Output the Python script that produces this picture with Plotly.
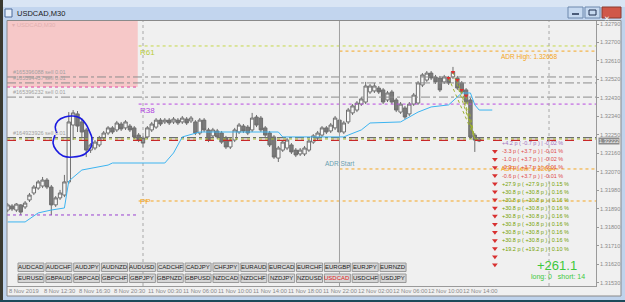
import plotly.graph_objects as go

W, H = 625, 302

# ---------------- data ----------------
symbol_title = "USDCAD,M30"
bar_index = list(range(109))
opens = [1.31884,1.31904,1.31884,1.31909,1.31899,1.31933,1.31967,1.31991,1.32001,1.32030,
         1.31996,1.31909,1.31943,1.31957,1.32021,1.32298,1.32352,1.32313,1.32274,1.32176,
         1.32186,1.32201,1.32235,1.32259,1.32284,1.32274,1.32303,1.32284,1.32293,1.32284,
         1.32249,1.32235,1.32240,1.32274,1.32288,1.32322,1.32313,1.32322,1.32313,1.32322,
         1.32313,1.32327,1.32318,1.32313,1.32259,1.32322,1.32274,1.32245,1.32269,1.32259,
         1.32235,1.32191,1.32225,1.32264,1.32293,1.32288,1.32274,1.32337,1.32332,1.32284,
         1.32259,1.32240,1.32137,1.32176,1.32186,1.32201,1.32176,1.32157,1.32157,1.32176,
         1.32215,1.32235,1.32249,1.32284,1.32269,1.32284,1.32322,1.32264,1.32313,1.32357,
         1.32371,1.32400,1.32410,1.32459,1.32464,1.32478,1.32469,1.32420,1.32459,1.32420,
         1.32361,1.32381,1.32352,1.32400,1.32405,1.32493,1.32517,1.32551,1.32532,1.32527,
         1.32508,1.32527,1.32532,1.32527,1.32503,1.32469,1.32420,1.32249,1.32220]
highs = [1.31918,1.31913,1.31918,1.31913,1.31928,1.31967,1.32006,1.32030,1.32045,1.32040,
         1.32006,1.31952,1.31982,1.32055,1.32361,1.32371,1.32366,1.32332,1.32284,1.32210,
         1.32225,1.32245,1.32269,1.32293,1.32293,1.32318,1.32313,1.32322,1.32303,1.32293,
         1.32259,1.32245,1.32293,1.32313,1.32332,1.32332,1.32332,1.32332,1.32337,1.32332,
         1.32342,1.32337,1.32342,1.32322,1.32332,1.32332,1.32284,1.32284,1.32279,1.32269,
         1.32245,1.32235,1.32284,1.32308,1.32303,1.32298,1.32357,1.32347,1.32342,1.32293,
         1.32269,1.32249,1.32196,1.32225,1.32235,1.32210,1.32186,1.32186,1.32196,1.32230,
         1.32254,1.32269,1.32293,1.32293,1.32308,1.32342,1.32332,1.32318,1.32381,1.32400,
         1.32415,1.32434,1.32508,1.32498,1.32503,1.32488,1.32478,1.32464,1.32469,1.32430,
         1.32410,1.32391,1.32410,1.32454,1.32512,1.32551,1.32561,1.32561,1.32542,1.32537,
         1.32542,1.32537,1.32581,1.32537,1.32512,1.32478,1.32430,1.32259,1.32235]
lows = [1.31874,1.31879,1.31874,1.31860,1.31889,1.31923,1.31957,1.31982,1.31991,1.31986,
        1.31860,1.31899,1.31933,1.31947,1.32011,1.32225,1.32264,1.32235,1.32142,1.32162,
        1.32176,1.32191,1.32225,1.32249,1.32254,1.32264,1.32269,1.32274,1.32264,1.32230,
        1.32215,1.32191,1.32230,1.32264,1.32279,1.32293,1.32303,1.32298,1.32303,1.32298,
        1.32303,1.32298,1.32308,1.32249,1.32249,1.32264,1.32215,1.32235,1.32230,1.32206,
        1.32181,1.32181,1.32215,1.32254,1.32259,1.32249,1.32264,1.32288,1.32264,1.32240,
        1.32191,1.32133,1.32118,1.32167,1.32176,1.32157,1.32142,1.32147,1.32147,1.32167,
        1.32206,1.32225,1.32240,1.32254,1.32259,1.32274,1.32254,1.32254,1.32303,1.32347,
        1.32361,1.32391,1.32400,1.32449,1.32454,1.32449,1.32400,1.32410,1.32400,1.32361,
        1.32352,1.32327,1.32342,1.32391,1.32396,1.32483,1.32508,1.32517,1.32498,1.32459,
        1.32498,1.32493,1.32522,1.32469,1.32449,1.32400,1.32230,1.32167,1.32215]
closes = [1.31909,1.31889,1.31913,1.31874,1.31918,1.31957,1.31996,1.32021,1.32030,1.31996,
          1.31909,1.31943,1.31967,1.32021,1.32313,1.32357,1.32293,1.32264,1.32176,1.32201,
          1.32215,1.32235,1.32259,1.32284,1.32264,1.32308,1.32279,1.32313,1.32274,1.32240,
          1.32225,1.32210,1.32284,1.32303,1.32322,1.32303,1.32322,1.32308,1.32327,1.32308,
          1.32332,1.32308,1.32332,1.32259,1.32322,1.32274,1.32225,1.32274,1.32240,1.32215,
          1.32191,1.32225,1.32274,1.32298,1.32269,1.32259,1.32332,1.32298,1.32274,1.32249,
          1.32201,1.32142,1.32186,1.32215,1.32225,1.32167,1.32152,1.32176,1.32186,1.32220,
          1.32245,1.32259,1.32284,1.32264,1.32298,1.32332,1.32264,1.32308,1.32371,1.32391,
          1.32405,1.32425,1.32488,1.32488,1.32488,1.32459,1.32410,1.32454,1.32410,1.32371,
          1.32400,1.32337,1.32400,1.32444,1.32503,1.32542,1.32551,1.32527,1.32508,1.32469,
          1.32532,1.32503,1.32556,1.32478,1.32459,1.32410,1.32240,1.32225,1.32230]

time_tick_bars = [0, 8, 16, 24, 32, 40, 48, 56, 64, 72, 80, 88, 96, 104]
time_tick_labels = ["8 Nov 2019", "8 Nov 12:30", "8 Nov 16:30", "8 Nov 20:30",
                    "11 Nov 00:30", "11 Nov 06:00", "11 Nov 10:00", "11 Nov 14:00",
                    "11 Nov 18:00", "11 Nov 22:00", "12 Nov 02:00", "12 Nov 06:00",
                    "12 Nov 10:00", "12 Nov 14:00"]
price_ticks = [1.32790, 1.32700, 1.32610, 1.32520, 1.32430, 1.32340, 1.32250, 1.32160,
               1.32070, 1.31980, 1.31890, 1.31800, 1.31710, 1.31620, 1.31530]
bid_price = 1.32222

trail_bars = [0, 4, 7, 10, 13, 14, 17, 23, 24, 36, 38, 40, 44, 62, 63, 77, 78, 81, 83, 90,
              94, 97, 101, 104, 106, 107, 108, 111]
trail_prices = [1.31826, 1.31826, 1.31870, 1.31884, 1.31894, 1.32025, 1.32079, 1.32103,
                1.32113, 1.32113, 1.32162, 1.32240, 1.32264, 1.32264, 1.32240, 1.32240,
                1.32249, 1.32274, 1.32308, 1.32313, 1.32361, 1.32386, 1.32396, 1.32454,
                1.32454, 1.32396, 1.32371, 1.32371]

circle_bars = [10.85, 10.4, 11.1, 12.7, 15.0, 17.7, 19.1, 19.3, 18.6, 17.9, 16.6, 15.0,
               13.1, 11.5, 10.9, 11.3]
circle_prices = [1.32249, 1.32210, 1.32176, 1.32147, 1.32142, 1.32157, 1.32191, 1.32235,
                 1.32274, 1.32303, 1.32332, 1.32342, 1.32337, 1.32318, 1.32288, 1.32259]

# horizontal levels: name, price, start bar, end bar, color, dash
lvl_names = ["R61", "ADR High", "ord1", "ord2", "prevbox", "ord3", "R38", "ordline",
             "entry", "sells", "ADR Low", "PP", "prevS"]
lvl_prices = [1.32683, 1.32658, 1.32532, 1.32503, 1.32483, 1.32434, 1.32400, 1.32237,
              1.32230, 1.32223, 1.32084, 1.31928, 1.31860]
lvl_start = [30, 76, -1, -1, -1, -1, 30, -1, -1, -1, 76, 30, -1]
lvl_end = [135, 135, 135, 135, 29.8, 135, 135, 135, 135, 135, 135, 135, 29.8]
lvl_color = ["#c5d84a", "#f5a623", "#8c8c8c", "#8c8c8c", "#e040a0", "#8c8c8c", "#b84ae0",
             "#6e6e6e", "#a8c030", "#c82828", "#f5a623", "#f5a623", "#9a40d0"]
lvl_dash = ["dot", "dot", "dashdot", "dashdot", "dot", "dashdot", "dot", "dashdot",
            "dot", "dash", "dot", "dot", "dot"]

order_tags = ["#165396088 sell 0.01", "#165394437 sell 0.01", "#165396232 sell 0.01",
              "#164923926 sell 0.01"]
order_prices = [1.32532, 1.32503, 1.32434, 1.32237]

day_sep_bars = [31, 124]
adr_start_bar = 76

entry_bars = [101, 102, 103, 104, 105]
entry_prices = [1.32527, 1.32556, 1.32517, 1.32469, 1.32440]
exit_bars = [107, 107, 107, 107, 107]
exit_prices = [1.32232, 1.32232, 1.32232, 1.32232, 1.32232]

trade_pips = [4.2, -3.3, -1.0, -0.9, -0.6, 27.9, 30.8, 30.8, 30.8, 30.8, 30.8, 30.8, 30.8, 19.2]
trade_max = [-0.7, 3.7, 3.7, 3.7, 3.7, 27.9, 30.8, 30.8, 30.8, 30.8, 30.8, 30.8, 30.8, 19.2]
trade_pct = [-0.02, -0.01, -0.02, -0.01, -0.01, 0.15, 0.16, 0.16, 0.16, 0.16, 0.16, 0.16, 0.16, 0.10]
total_pips = 261.1
long_count, short_count = 0, 14

buttons_row1 = ["AUDCAD", "AUDCHF", "AUDJPY", "AUDNZD", "AUDUSD", "CADCHF", "CADJPY",
                "CHFJPY", "EURAUD", "EURCAD", "EURCHF", "EURGBP", "EURJPY", "EURNZD"]
buttons_row2 = ["EURUSD", "GBPAUD", "GBPCAD", "GBPCHF", "GBPJPY", "GBPNZD", "GBPUSD",
                "NZDCAD", "NZDCHF", "NZDJPY", "NZDUSD", "USDCAD", "USDCHF", "USDJPY"]
active_symbol = "USDCAD"

# ---------------- layout geometry (pixels) ----------------
PX_L, PX_R, PX_T, PX_B = 7, 596, 21, 286
X0, XSTEP = 7.65, 4.366
XR = [(PX_L - X0) / XSTEP, (PX_R - X0) / XSTEP]
PPX = 0.0000487
YR = [1.32790 - (PX_B - 24) * PPX, 1.32790 + (24 - PX_T) * PPX]


def px(x):
    return x / W


def py(y):
    return 1 - y / H


FONT = "Liberation Sans"
BG = "#f0f0f0"
fig = go.Figure()

shapes = []
ann = []

# pink previous-day zone
shapes.append(dict(type="rect", xref="x", yref="y", x0=XR[0], x1=29.8,
                   y0=lvl_prices[4], y1=YR[1], fillcolor="#f6c8c8", line=dict(width=0),
                   layer="below"))

# horizontal levels
for name, p, s, e, c, d in zip(lvl_names, lvl_prices, lvl_start, lvl_end, lvl_color, lvl_dash):
    fig.add_trace(go.Scatter(x=[max(s, XR[0]), min(e, XR[1])], y=[p, p], mode="lines",
                             line=dict(color=c, width=1.2 if name in ("ordline", "sells") else 1, dash=d),
                             hoverinfo="skip", showlegend=False))

# period separators
for b in day_sep_bars:
    fig.add_trace(go.Scatter(x=[b, b], y=[YR[0], YR[1]], mode="lines",
                             line=dict(color="#a8a8a8", width=1, dash="dot"),
                             hoverinfo="skip", showlegend=False))
fig.add_trace(go.Scatter(x=[adr_start_bar, adr_start_bar], y=[YR[0], YR[1]], mode="lines",
                         line=dict(color="#a0a0a0", width=1), hoverinfo="skip", showlegend=False))

# candles
fig.add_trace(go.Candlestick(x=bar_index, open=opens, high=highs, low=lows, close=closes,
                             increasing=dict(line=dict(color="#6e6e6e", width=1), fillcolor="#f8f8f8"),
                             decreasing=dict(line=dict(color="#6e6e6e", width=1), fillcolor="#7a7a7a"),
                             whiskerwidth=0, hoverinfo="skip", showlegend=False))

# trailing line
fig.add_trace(go.Scatter(x=trail_bars, y=trail_prices, mode="lines",
                         line=dict(color="#3cb4f0", width=1), hoverinfo="skip", showlegend=False))

# trade history lines
for eb, ep, xb, xp in zip(entry_bars, entry_prices, exit_bars, exit_prices):
    fig.add_trace(go.Scatter(x=[eb, xb], y=[ep, xp], mode="lines",
                             line=dict(color="#9cb030", width=1, dash="dot"),
                             hoverinfo="skip", showlegend=False))
fig.add_trace(go.Scatter(x=entry_bars, y=entry_prices, mode="markers",
                         marker=dict(symbol="triangle-down", size=4, color="#e03030"),
                         hoverinfo="skip", showlegend=False))

# hand drawn circle
fig.add_trace(go.Scatter(x=circle_bars, y=circle_prices, mode="lines",
                         line=dict(color="#1a1ae0", width=1.6, shape="spline"),
                         hoverinfo="skip", showlegend=False))

# level labels
ann.append(dict(x=29.9, y=lvl_prices[0], xref="x", yref="y", text="R61", showarrow=False,
                xanchor="left", yanchor="top", font=dict(size=8, color="#b8cc3a", family=FONT)))
ann.append(dict(x=29.9, y=lvl_prices[6], xref="x", yref="y", text="R38", showarrow=False,
                xanchor="left", yanchor="top", font=dict(size=8, color="#b040e0", family=FONT)))
ann.append(dict(x=29.9, y=lvl_prices[11], xref="x", yref="y", text="PP", showarrow=False,
                xanchor="left", yanchor="middle", font=dict(size=8, color="#f5a623", family=FONT)))
ann.append(dict(x=112.5, y=lvl_prices[1], xref="x", yref="y", text="ADR High: %.5f" % lvl_prices[1],
                showarrow=False, xanchor="left", yanchor="top",
                font=dict(size=6.5, color="#f5a623", family=FONT)))
ann.append(dict(x=112.5, y=lvl_prices[10], xref="x", yref="y", text="ADR Low: %.5f" % lvl_prices[10],
                showarrow=False, xanchor="left", yanchor="middle",
                font=dict(size=6.5, color="#f5a623", family=FONT)))
ann.append(dict(x=adr_start_bar, y=lvl_prices[10], xref="x", yref="y", text="ADR Start",
                showarrow=False, xanchor="center", yanchor="bottom",
                font=dict(size=6.5, color="#6a9fb0", family=FONT)))
for t, p in zip(order_tags, order_prices):
    ann.append(dict(x=0.7, y=p, xref="x", yref="y", text=t, showarrow=False, xanchor="left",
                    yanchor="bottom", font=dict(size=5.5, color="#a0a0a0", family=FONT)))
ann.append(dict(x=px(10), y=py(25), xref="paper", yref="paper", text="▾ " + symbol_title,
                showarrow=False, xanchor="left", yanchor="middle",
                font=dict(size=6, color="#e0b0b0", family=FONT)))

# trade list
row_top, row_step = 1.32210, 0.000395
for k, (pp, mx, pc) in enumerate(zip(trade_pips, trade_max, trade_pct)):
    yk = row_top - k * row_step
    col = "#e04848" if pp < 0 else "#74a000"
    if k == 0:
        col = "#a070c0"
    txt = "%+.1f p ( %+.1f p ) | %.2f %%" % (pp, mx, pc)
    ann.append(dict(x=112.7, y=yk, xref="x", yref="y", text=txt, showarrow=False,
                    xanchor="left", yanchor="middle", font=dict(size=5.5, color=col, family=FONT)))
marker_rows = list(range(1, 16))
fig.add_trace(go.Scatter(x=[111.6] * len(marker_rows), y=[row_top - k * row_step for k in marker_rows],
                         mode="markers", marker=dict(symbol="triangle-down", size=5, color="#d83030"),
                         hoverinfo="skip", showlegend=False))
ann.append(dict(x=px(557), y=py(265), xref="paper", yref="paper", text="%+.1f" % total_pips,
                showarrow=False, xanchor="center", yanchor="middle",
                font=dict(size=13, color="#3cc83c", family=FONT)))
ann.append(dict(x=px(558), y=py(277), xref="paper", yref="paper",
                text="long: %d   short: %d" % (long_count, short_count), showarrow=False,
                xanchor="center", yanchor="middle", font=dict(size=7, color="#3cc83c", family=FONT)))

# bid box
ann.append(dict(x=px(598), y=bid_price, xref="paper", yref="y", text="%.5f" % bid_price, showarrow=False,
                xanchor="left", yanchor="middle", bgcolor="#8c8c8c",
                font=dict(size=5.6, color="#f4f4f4", family=FONT), borderpad=0))

# time labels
for b, t in zip(time_tick_bars, time_tick_labels):
    ann.append(dict(x=max(b - 0.2, XR[0] + 0.01), y=py(290.5), xref="x", yref="paper", text=t,
                    showarrow=False, xanchor="left", yanchor="middle",
                    font=dict(size=5.8, color="#8a8a8a", family=FONT)))

# symbol buttons
for r, row in enumerate([buttons_row1, buttons_row2]):
    yt = 263 + r * 11
    for j, s in enumerate(row):
        x0 = 18 + j * 27.85
        shapes.append(dict(type="rect", xref="paper", yref="paper", x0=px(x0), x1=px(x0 + 26),
                           y0=py(yt + 8.5), y1=py(yt), fillcolor="#d6d6d6",
                           line=dict(color="#9a9a9a", width=1)))
        ann.append(dict(x=px(x0 + 13), y=py(yt + 4.3), xref="paper", yref="paper", text=s,
                        showarrow=False, xanchor="center", yanchor="middle",
                        font=dict(size=6, color="#e02020" if s == active_symbol else "#202020",
                                  family=FONT)))

# window frame
frame = "#bfd3ec"
shapes += [
    dict(type="rect", xref="paper", yref="paper", x0=0, x1=1, y0=py(7), y1=1,
         fillcolor="#d9e5f4", line=dict(width=0)),
    dict(type="rect", xref="paper", yref="paper", x0=0, x1=1, y0=py(20), y1=py(7),
         fillcolor="#c2d5ee", line=dict(width=0)),
    dict(type="rect", xref="paper", yref="paper", x0=0, x1=px(3), y0=0, y1=1,
         fillcolor="#3a3a30", line=dict(width=0)),
    dict(type="rect", xref="paper", yref="paper", x0=px(3), x1=px(7), y0=0, y1=py(20),
         fillcolor=frame, line=dict(width=0)),
    dict(type="rect", xref="paper", yref="paper", x0=px(621), x1=1, y0=0, y1=py(20),
         fillcolor=frame, line=dict(width=0)),
    dict(type="rect", xref="paper", yref="paper", x0=px(3), x1=1, y0=0, y1=py(296),
         fillcolor=frame, line=dict(width=0)),
    dict(type="rect", xref="paper", yref="paper", x0=0, x1=1, y0=0, y1=py(300),
         fillcolor="#1d4a5a", line=dict(width=0)),
    dict(type="rect", xref="paper", yref="paper", x0=px(7), x1=px(621), y0=py(296), y1=py(20.5),
         fillcolor="rgba(0,0,0,0)", line=dict(color="#8a8a8a", width=1)),
    # title icon
    dict(type="rect", xref="paper", yref="paper", x0=px(5), x1=px(12), y0=py(17), y1=py(9),
         fillcolor="#e8f0fa", line=dict(color="#4a6a9a", width=1)),
    # title buttons
    dict(type="rect", xref="paper", yref="paper", x0=px(568), x1=px(583), y0=py(18), y1=py(7),
         fillcolor="#c6d9f0", line=dict(color="#6d88ad", width=1)),
    dict(type="rect", xref="paper", yref="paper", x0=px(585), x1=px(600), y0=py(18), y1=py(7),
         fillcolor="#c6d9f0", line=dict(color="#6d88ad", width=1)),
    dict(type="rect", xref="paper", yref="paper", x0=px(602), x1=px(621), y0=py(18), y1=py(7),
         fillcolor="#d0584a", line=dict(color="#8a3a30", width=1)),
    dict(type="line", xref="paper", yref="paper", x0=px(572), x1=px(579), y0=py(14), y1=py(14),
         line=dict(color="#203050", width=1.5)),
    dict(type="rect", xref="paper", yref="paper", x0=px(589), x1=px(596), y0=py(15), y1=py(10),
         line=dict(color="#203050", width=1)),
]
ann.append(dict(x=px(15), y=py(13), xref="paper", yref="paper", text=symbol_title,
                showarrow=False, xanchor="left", yanchor="middle",
                font=dict(size=7.5, color="#1a1a1a", family=FONT)))
ann.append(dict(x=px(611.5), y=py(12.5), xref="paper", yref="paper", text="✕", showarrow=False,
                font=dict(size=7, color="#ffffff", family=FONT)))

fig.update_layout(
    width=W, height=H, margin=dict(l=0, r=0, t=0, b=0),
    paper_bgcolor=BG, plot_bgcolor=BG, showlegend=False,
    boxgap=0.12, boxgroupgap=0.12,
    shapes=shapes, annotations=ann,
    xaxis=dict(domain=[px(PX_L), px(PX_R)], range=XR, showgrid=False, zeroline=False,
               showticklabels=False, rangeslider=dict(visible=False), showline=True,
               linecolor="#9a9a9a", linewidth=1, fixedrange=True),
    yaxis=dict(domain=[py(PX_B), py(PX_T)], range=YR, side="right", showgrid=False,
               zeroline=False, tickvals=price_ticks, ticktext=["%.5f" % v for v in price_ticks],
               ticks="outside", ticklen=2, tickcolor="#9a9a9a", showline=True,
               linecolor="#9a9a9a", linewidth=1,
               tickfont=dict(size=5.6, color="#8a8a8a", family=FONT), fixedrange=True),
)
fig.write_html("out.html")
